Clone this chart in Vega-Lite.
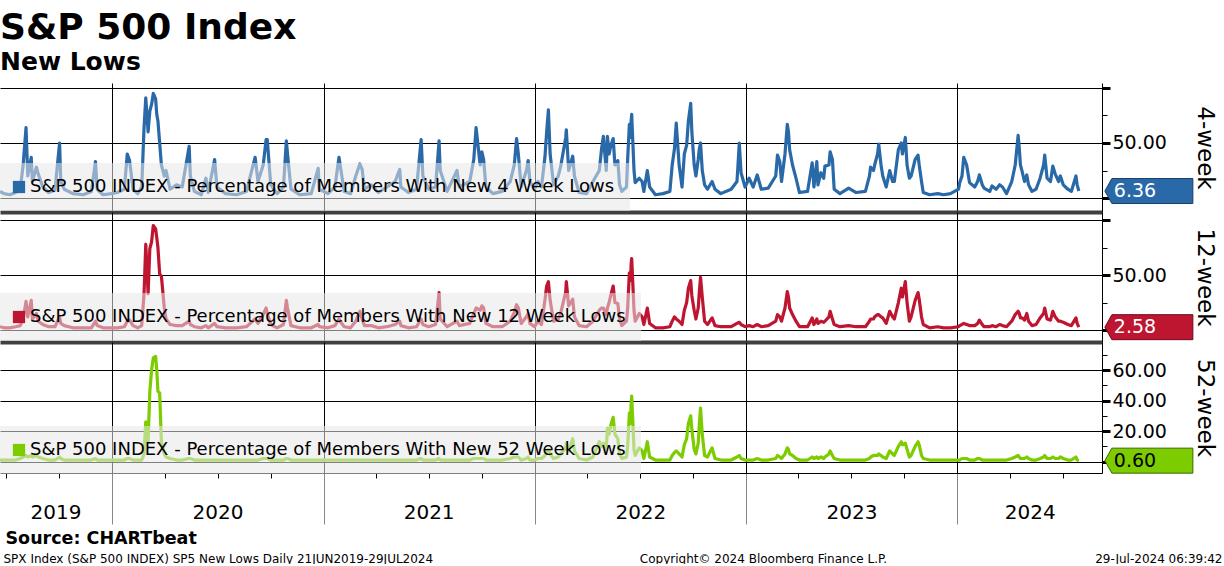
{
  "$schema": "https://vega.github.io/schema/vega-lite/v6.json",
  "padding": {"left": -2, "top": 10, "right": 0, "bottom": 0},
  "background": "white",
  "title": {"text": "S&P 500 Index", "subtitle": "New Lows", "anchor": "start", "frame": "group", "font": "DejaVu Sans", "fontSize": 36, "fontWeight": "bold", "color": "#000", "subtitleFont": "DejaVu Sans", "subtitleFontSize": 25, "subtitleFontWeight": "bold", "subtitleColor": "#000", "subtitlePadding": 3, "offset": 7},
  "datasets": {
    "main": [
      {"d":"2019-06-21","a":6,"b":3,"c":1},{"d":"2019-06-28","a":4,"b":2,"c":1},{"d":"2019-07-08","a":3,"b":2,"c":1},{"d":"2019-07-18","a":5,"b":3,"c":1},{"d":"2019-07-26","a":8,"b":4,"c":2},{"d":"2019-07-31","a":30,"b":10,"c":3},{"d":"2019-08-05","a":64,"b":26,"c":4},{"d":"2019-08-08","a":20,"b":12,"c":3},{"d":"2019-08-14","a":37,"b":27,"c":4},{"d":"2019-08-16","a":15,"b":10,"c":3},{"d":"2019-08-23","a":28,"b":15,"c":4},{"d":"2019-08-26","a":22,"b":8,"c":3},{"d":"2019-09-03","a":10,"b":5,"c":2},{"d":"2019-09-13","a":5,"b":3,"c":1},{"d":"2019-09-24","a":7,"b":3,"c":1},{"d":"2019-10-02","a":50,"b":12,"c":3},{"d":"2019-10-04","a":15,"b":6,"c":2},{"d":"2019-10-10","a":8,"b":4,"c":1},{"d":"2019-10-25","a":4,"b":2,"c":1},{"d":"2019-11-12","a":3,"b":2,"c":1},{"d":"2019-11-26","a":6,"b":2,"c":1},{"d":"2019-12-03","a":33,"b":8,"c":2},{"d":"2019-12-06","a":8,"b":4,"c":1},{"d":"2019-12-16","a":3,"b":2,"c":1},{"d":"2019-12-31","a":4,"b":2,"c":1},
      {"d":"2020-01-10","a":5,"b":2,"c":1},{"d":"2020-01-22","a":8,"b":3,"c":1},{"d":"2020-01-27","a":40,"b":8,"c":2},{"d":"2020-01-31","a":34,"b":9,"c":2},{"d":"2020-02-06","a":8,"b":4,"c":1},{"d":"2020-02-14","a":4,"b":2,"c":1},{"d":"2020-02-21","a":10,"b":4,"c":1},{"d":"2020-02-25","a":64,"b":33,"c":5},{"d":"2020-02-28","a":91,"b":78,"c":26},{"d":"2020-03-03","a":60,"b":33,"c":13},{"d":"2020-03-06","a":79,"b":74,"c":46},{"d":"2020-03-09","a":85,"b":80,"c":60},{"d":"2020-03-12","a":95,"b":95,"c":68},{"d":"2020-03-16","a":90,"b":92,"c":69},{"d":"2020-03-18","a":76,"b":84,"c":60},{"d":"2020-03-20","a":70,"b":75,"c":46},{"d":"2020-03-23","a":50,"b":51,"c":45},{"d":"2020-03-26","a":30,"b":49,"c":13},{"d":"2020-03-31","a":20,"b":20,"c":5},{"d":"2020-04-03","a":25,"b":10,"c":3},{"d":"2020-04-10","a":8,"b":5,"c":2},{"d":"2020-04-21","a":12,"b":4,"c":1},{"d":"2020-05-01","a":10,"b":4,"c":1},{"d":"2020-05-13","a":47,"b":8,"c":2},{"d":"2020-05-15","a":20,"b":5,"c":2},{"d":"2020-05-22","a":6,"b":3,"c":1},{"d":"2020-06-03","a":3,"b":2,"c":1},{"d":"2020-06-11","a":18,"b":4,"c":1},{"d":"2020-06-15","a":5,"b":2,"c":1},{"d":"2020-06-26","a":35,"b":6,"c":1},{"d":"2020-06-30","a":10,"b":3,"c":1},{"d":"2020-07-15","a":4,"b":2,"c":1},{"d":"2020-08-03","a":3,"b":2,"c":1},{"d":"2020-08-20","a":6,"b":3,"c":1},{"d":"2020-09-04","a":37,"b":10,"c":1},{"d":"2020-09-09","a":15,"b":6,"c":1},{"d":"2020-09-18","a":30,"b":14,"c":2},{"d":"2020-09-23","a":53,"b":20,"c":2},{"d":"2020-09-25","a":53,"b":15,"c":2},{"d":"2020-10-01","a":12,"b":5,"c":1},{"d":"2020-10-12","a":4,"b":2,"c":1},{"d":"2020-10-23","a":10,"b":5,"c":1},{"d":"2020-10-28","a":52,"b":27,"c":2},{"d":"2020-10-30","a":40,"b":20,"c":2},{"d":"2020-11-05","a":8,"b":4,"c":1},{"d":"2020-11-20","a":3,"b":2,"c":1},{"d":"2020-12-10","a":4,"b":2,"c":1},{"d":"2020-12-22","a":27,"b":5,"c":1},{"d":"2020-12-24","a":8,"b":3,"c":1},
      {"d":"2021-01-08","a":4,"b":2,"c":1},{"d":"2021-01-20","a":10,"b":4,"c":1},{"d":"2021-01-27","a":37,"b":10,"c":1},{"d":"2021-01-29","a":30,"b":8,"c":1},{"d":"2021-02-05","a":6,"b":3,"c":1},{"d":"2021-02-16","a":4,"b":2,"c":1},{"d":"2021-02-25","a":20,"b":8,"c":1},{"d":"2021-03-04","a":31,"b":17,"c":1},{"d":"2021-03-08","a":26,"b":10,"c":1},{"d":"2021-03-12","a":8,"b":4,"c":1},{"d":"2021-03-24","a":12,"b":4,"c":1},{"d":"2021-04-05","a":5,"b":2,"c":1},{"d":"2021-04-20","a":10,"b":3,"c":1},{"d":"2021-05-04","a":15,"b":5,"c":1},{"d":"2021-05-12","a":26,"b":8,"c":1},{"d":"2021-05-14","a":10,"b":4,"c":1},{"d":"2021-05-27","a":5,"b":2,"c":1},{"d":"2021-06-10","a":8,"b":3,"c":1},{"d":"2021-06-18","a":53,"b":10,"c":2},{"d":"2021-06-21","a":20,"b":5,"c":1},{"d":"2021-07-01","a":8,"b":3,"c":1},{"d":"2021-07-13","a":10,"b":5,"c":1},{"d":"2021-07-19","a":52,"b":34,"c":2},{"d":"2021-07-21","a":25,"b":10,"c":1},{"d":"2021-08-02","a":6,"b":3,"c":1},{"d":"2021-08-19","a":25,"b":8,"c":1},{"d":"2021-08-23","a":10,"b":4,"c":1},{"d":"2021-09-10","a":15,"b":6,"c":1},{"d":"2021-09-17","a":35,"b":15,"c":2},{"d":"2021-09-21","a":64,"b":20,"c":2},{"d":"2021-09-28","a":30,"b":18,"c":2},{"d":"2021-10-01","a":42,"b":22,"c":2},{"d":"2021-10-04","a":35,"b":20,"c":2},{"d":"2021-10-08","a":10,"b":6,"c":1},{"d":"2021-10-20","a":4,"b":3,"c":1},{"d":"2021-11-05","a":6,"b":3,"c":1},{"d":"2021-11-19","a":15,"b":8,"c":2},{"d":"2021-11-26","a":30,"b":16,"c":3},{"d":"2021-11-30","a":54,"b":23,"c":3},{"d":"2021-12-03","a":40,"b":20,"c":3},{"d":"2021-12-08","a":10,"b":6,"c":1},{"d":"2021-12-17","a":25,"b":12,"c":2},{"d":"2021-12-20","a":34,"b":15,"c":3},{"d":"2021-12-23","a":15,"b":6,"c":1},{"d":"2021-12-31","a":8,"b":3,"c":1},
      {"d":"2022-01-06","a":15,"b":8,"c":2},{"d":"2022-01-12","a":10,"b":5,"c":2},{"d":"2022-01-18","a":37,"b":27,"c":4},{"d":"2022-01-21","a":60,"b":40,"c":6},{"d":"2022-01-24","a":80,"b":44,"c":8},{"d":"2022-01-27","a":40,"b":27,"c":5},{"d":"2022-02-02","a":12,"b":8,"c":2},{"d":"2022-02-10","a":20,"b":10,"c":3},{"d":"2022-02-14","a":28,"b":15,"c":5},{"d":"2022-02-23","a":55,"b":35,"c":9},{"d":"2022-02-24","a":62,"b":44,"c":12},{"d":"2022-02-28","a":25,"b":22,"c":7},{"d":"2022-03-07","a":38,"b":28,"c":15},{"d":"2022-03-10","a":20,"b":12,"c":7},{"d":"2022-03-18","a":5,"b":4,"c":2},{"d":"2022-03-31","a":4,"b":3,"c":1},{"d":"2022-04-11","a":15,"b":8,"c":3},{"d":"2022-04-22","a":25,"b":18,"c":13},{"d":"2022-04-26","a":45,"b":20,"c":10},{"d":"2022-04-29","a":56,"b":20,"c":12},{"d":"2022-05-04","a":25,"b":14,"c":8},{"d":"2022-05-06","a":56,"b":20,"c":22},{"d":"2022-05-09","a":40,"b":25,"c":18},{"d":"2022-05-12","a":48,"b":32,"c":24},{"d":"2022-05-16","a":54,"b":40,"c":29},{"d":"2022-05-19","a":30,"b":25,"c":18},{"d":"2022-05-24","a":34,"b":24,"c":15},{"d":"2022-05-27","a":12,"b":10,"c":5},{"d":"2022-05-31","a":6,"b":4,"c":2},{"d":"2022-06-08","a":10,"b":8,"c":3},{"d":"2022-06-10","a":35,"b":20,"c":10},{"d":"2022-06-13","a":67,"b":52,"c":32},{"d":"2022-06-15","a":55,"b":45,"c":25},{"d":"2022-06-16","a":70,"b":60,"c":38},{"d":"2022-06-17","a":76,"b":65,"c":43},{"d":"2022-06-21","a":25,"b":18,"c":8},{"d":"2022-06-23","a":14,"b":8,"c":4},{"d":"2022-06-30","a":18,"b":15,"c":9},{"d":"2022-07-05","a":15,"b":12,"c":7},{"d":"2022-07-08","a":6,"b":5,"c":2},{"d":"2022-07-14","a":25,"b":20,"c":13},{"d":"2022-07-18","a":10,"b":6,"c":3},{"d":"2022-07-28","a":3,"b":2,"c":1},{"d":"2022-08-10","a":4,"b":2,"c":1},{"d":"2022-08-22","a":6,"b":3,"c":1},{"d":"2022-08-26","a":30,"b":8,"c":4},{"d":"2022-08-30","a":45,"b":12,"c":6},{"d":"2022-09-02","a":68,"b":10,"c":7},{"d":"2022-09-07","a":30,"b":8,"c":5},{"d":"2022-09-12","a":10,"b":5,"c":3},{"d":"2022-09-16","a":40,"b":18,"c":11},{"d":"2022-09-20","a":48,"b":25,"c":15},{"d":"2022-09-23","a":70,"b":38,"c":25},{"d":"2022-09-27","a":86,"b":45,"c":30},{"d":"2022-09-29","a":60,"b":31,"c":21},{"d":"2022-10-03","a":30,"b":18,"c":8},{"d":"2022-10-06","a":20,"b":10,"c":5},{"d":"2022-10-10","a":35,"b":20,"c":12},{"d":"2022-10-12","a":45,"b":35,"c":25},{"d":"2022-10-14","a":50,"b":48,"c":35},{"d":"2022-10-17","a":25,"b":30,"c":18},{"d":"2022-10-21","a":12,"b":8,"c":4},{"d":"2022-10-26","a":8,"b":5,"c":3},{"d":"2022-11-03","a":15,"b":11,"c":9},{"d":"2022-11-08","a":8,"b":4,"c":2},{"d":"2022-11-18","a":4,"b":3,"c":1},{"d":"2022-12-06","a":8,"b":3,"c":1},{"d":"2022-12-16","a":15,"b":6,"c":3},{"d":"2022-12-20","a":50,"b":7,"c":4},{"d":"2022-12-23","a":23,"b":5,"c":2},{"d":"2022-12-30","a":10,"b":3,"c":1},
      {"d":"2023-01-06","a":18,"b":4,"c":1},{"d":"2023-01-13","a":10,"b":3,"c":1},{"d":"2023-01-20","a":21,"b":5,"c":2},{"d":"2023-01-27","a":8,"b":3,"c":1},{"d":"2023-02-08","a":9,"b":4,"c":1},{"d":"2023-02-21","a":20,"b":8,"c":2},{"d":"2023-02-24","a":39,"b":14,"c":4},{"d":"2023-02-28","a":33,"b":12,"c":3},{"d":"2023-03-03","a":15,"b":8,"c":2},{"d":"2023-03-09","a":40,"b":20,"c":5},{"d":"2023-03-13","a":67,"b":35,"c":9},{"d":"2023-03-15","a":60,"b":30,"c":8},{"d":"2023-03-17","a":44,"b":20,"c":5},{"d":"2023-03-22","a":30,"b":14,"c":4},{"d":"2023-03-28","a":18,"b":8,"c":2},{"d":"2023-04-03","a":5,"b":3,"c":1},{"d":"2023-04-17","a":6,"b":3,"c":1},{"d":"2023-04-25","a":32,"b":11,"c":3},{"d":"2023-04-28","a":10,"b":5,"c":2},{"d":"2023-05-03","a":33,"b":10,"c":3},{"d":"2023-05-05","a":12,"b":6,"c":2},{"d":"2023-05-10","a":23,"b":8,"c":3},{"d":"2023-05-15","a":18,"b":7,"c":2},{"d":"2023-05-17","a":29,"b":8,"c":3},{"d":"2023-05-24","a":30,"b":12,"c":5},{"d":"2023-05-26","a":42,"b":17,"c":7},{"d":"2023-05-30","a":35,"b":10,"c":4},{"d":"2023-06-02","a":8,"b":5,"c":2},{"d":"2023-06-12","a":4,"b":3,"c":1},{"d":"2023-06-27","a":9,"b":4,"c":1},{"d":"2023-07-10","a":5,"b":3,"c":1},{"d":"2023-07-26","a":6,"b":3,"c":1},{"d":"2023-08-02","a":20,"b":8,"c":2},{"d":"2023-08-04","a":28,"b":10,"c":3},{"d":"2023-08-09","a":25,"b":10,"c":4},{"d":"2023-08-11","a":30,"b":12,"c":4},{"d":"2023-08-16","a":40,"b":14,"c":4},{"d":"2023-08-18","a":49,"b":14,"c":5},{"d":"2023-08-22","a":30,"b":12,"c":4},{"d":"2023-08-25","a":20,"b":11,"c":3},{"d":"2023-08-31","a":10,"b":6,"c":2},{"d":"2023-09-06","a":25,"b":17,"c":7},{"d":"2023-09-11","a":15,"b":12,"c":5},{"d":"2023-09-14","a":15,"b":10,"c":4},{"d":"2023-09-21","a":44,"b":25,"c":10},{"d":"2023-09-26","a":50,"b":38,"c":13},{"d":"2023-09-28","a":40,"b":30,"c":11},{"d":"2023-10-03","a":55,"b":44,"c":12},{"d":"2023-10-06","a":30,"b":25,"c":8},{"d":"2023-10-10","a":18,"b":8,"c":3},{"d":"2023-10-13","a":20,"b":12,"c":4},{"d":"2023-10-20","a":35,"b":27,"c":10},{"d":"2023-10-25","a":39,"b":34,"c":13},{"d":"2023-10-27","a":30,"b":28,"c":11},{"d":"2023-10-31","a":15,"b":12,"c":4},{"d":"2023-11-03","a":5,"b":5,"c":2},{"d":"2023-11-14","a":3,"b":2,"c":1},{"d":"2023-11-28","a":4,"b":3,"c":1},{"d":"2023-12-08","a":3,"b":2,"c":1},{"d":"2023-12-20","a":4,"b":2,"c":1},
      {"d":"2024-01-03","a":8,"b":3,"c":1},{"d":"2024-01-05","a":14,"b":4,"c":1},{"d":"2024-01-09","a":20,"b":5,"c":2},{"d":"2024-01-12","a":37,"b":6,"c":2},{"d":"2024-01-17","a":30,"b":5,"c":2},{"d":"2024-01-22","a":14,"b":4,"c":1},{"d":"2024-01-31","a":10,"b":4,"c":1},{"d":"2024-02-05","a":15,"b":6,"c":2},{"d":"2024-02-08","a":21,"b":9,"c":2},{"d":"2024-02-13","a":12,"b":5,"c":1},{"d":"2024-02-16","a":9,"b":3,"c":1},{"d":"2024-02-26","a":6,"b":3,"c":1},{"d":"2024-03-01","a":11,"b":4,"c":1},{"d":"2024-03-08","a":8,"b":3,"c":1},{"d":"2024-03-14","a":12,"b":5,"c":1},{"d":"2024-03-19","a":10,"b":4,"c":1},{"d":"2024-03-26","a":4,"b":3,"c":1},{"d":"2024-04-04","a":15,"b":8,"c":2},{"d":"2024-04-10","a":30,"b":14,"c":3},{"d":"2024-04-15","a":57,"b":17,"c":4},{"d":"2024-04-17","a":45,"b":15,"c":3},{"d":"2024-04-19","a":30,"b":11,"c":2},{"d":"2024-04-22","a":24,"b":11,"c":2},{"d":"2024-04-26","a":15,"b":9,"c":2},{"d":"2024-04-30","a":21,"b":15,"c":3},{"d":"2024-05-03","a":12,"b":8,"c":2},{"d":"2024-05-09","a":6,"b":4,"c":1},{"d":"2024-05-16","a":8,"b":5,"c":1},{"d":"2024-05-23","a":18,"b":11,"c":2},{"d":"2024-05-29","a":30,"b":15,"c":3},{"d":"2024-05-31","a":39,"b":20,"c":4},{"d":"2024-06-04","a":18,"b":10,"c":2},{"d":"2024-06-10","a":15,"b":9,"c":2},{"d":"2024-06-14","a":29,"b":17,"c":3},{"d":"2024-06-18","a":22,"b":12,"c":2},{"d":"2024-06-24","a":15,"b":8,"c":2},{"d":"2024-06-27","a":20,"b":8,"c":3},{"d":"2024-07-02","a":12,"b":7,"c":2},{"d":"2024-07-10","a":8,"b":5,"c":1},{"d":"2024-07-16","a":6,"b":4,"c":1},{"d":"2024-07-24","a":20,"b":11,"c":3},{"d":"2024-07-26","a":12,"b":6,"c":1},{"d":"2024-07-29","a":6.36,"b":2.58,"c":0.6}
    ]
  },
  "vconcat": [
    {
      "width": 1102, "height": 129,
      "resolve": {"axis": {"x": "independent", "y": "independent"}},
      "layer": [
        {
          "data": {"name": "main"},
          "mark": {"type": "line", "strokeWidth": 3.2, "strokeJoin": "round"},
          "encoding": {
            "x": {"field": "d", "type": "temporal", "scale": {"type": "utc", "domain": [{"year": 2019, "month": 6, "date": 21, "utc": true}, {"year": 2024, "month": 9, "date": 7, "utc": true}]},
                  "axis": {"orient": "bottom", "tickCount": {"interval": "year", "step": 1}, "grid": true, "gridColor": "#000", "gridWidth": 1, "ticks": false, "labels": false, "domain": true, "domainColor": "#404040", "domainWidth": 4, "title": null}},
            "y": {"field": "a", "type": "quantitative", "scale": {"domain": [-12.7, 104.5], "nice": false, "zero": false},
                  "axis": {"orient": "right", "values": [0, 25, 50, 75, 100], "grid": true, "gridColor": "#000", "gridWidth": 1,
                           "gridOpacity": {"condition": {"test": "datum.value % 50 == 0", "value": 1}, "value": 0},
                           "tickColor": "#000", "tickSize": {"condition": {"test": "datum.value % 50 == 0", "value": 8}, "value": 5},
                           "tickWidth": {"condition": {"test": "datum.value % 50 == 0", "value": 3}, "value": 1},
                           "domainColor": "#000", "labelExpr": "datum.value == 50 ? '50.00' : ''", "labelFontSize": 19, "labelColor": "#000", "labelPadding": 2,
                           "title": "4-week", "titleFontSize": 23, "titleFontWeight": "normal", "titleColor": "#000", "titleAngle": 90, "titlePadding": 26}},
            "color": {"datum": "S&P 500 INDEX - Percentage of Members With New 4 Week Lows", "scale": {"range": ["#2a69a8"]},
                      "legend": {"title": null, "orient": "none", "legendX": 0, "legendY": 80, "padding": 15, "labelOffset": 2, "symbolOffset": -5, "fillColor": "rgba(232,232,232,0.55)", "symbolType": "square", "symbolSize": 150, "symbolFillColor": "#2a69a8", "symbolStrokeWidth": 0, "symbolOpacity": 1, "labelFontSize": 18, "labelLimit": 1000, "labelColor": "#000", "zindex": 1}}
          }
        },
        {
          "mark": {"type": "rule", "strokeWidth": 4, "color": "#404040"},
          "encoding": {
            "x": {"datum": {"year": 2024, "month": 9, "date": 7, "utc": true}, "type": "temporal", "axis": null},
            "x2": {"datum": {"year": 2025, "month": 4, "date": 20, "utc": true}},
            "y": {"datum": -12.7, "type": "quantitative", "axis": null}
          }
        },
        {
          "data": {"values": [{"d": "2024-07-29", "v": 6.36}]},
          "mark": {"type": "point", "shape": "M 0.52 0 L 0.66 -0.25 L 2.28 -0.25 L 2.28 0.25 L 0.66 0.25 Z", "size": 10000, "filled": true, "fill": "#2a69a8", "stroke": "#1b3f66", "strokeWidth": 1, "opacity": 1},
          "encoding": {"x": {"field": "d", "type": "temporal", "axis": null}, "y": {"field": "v", "type": "quantitative", "axis": null}}
        },
        {
          "data": {"values": [{"d": "2024-07-29", "v": 6.36}]},
          "mark": {"type": "text", "dx": 35, "align": "left", "baseline": "middle", "fontSize": 19, "color": "#ffffff"},
          "encoding": {"x": {"field": "d", "type": "temporal", "axis": null}, "y": {"field": "v", "type": "quantitative", "axis": null}, "text": {"field": "v", "type": "quantitative", "format": ".2f"}}
        }
      ]
    },
    {
      "width": 1102, "height": 130,
      "resolve": {"axis": {"x": "independent", "y": "independent"}},
      "layer": [
        {
          "data": {"name": "main"},
          "mark": {"type": "line", "strokeWidth": 3.2, "strokeJoin": "round"},
          "encoding": {
            "x": {"field": "d", "type": "temporal", "scale": {"type": "utc", "domain": [{"year": 2019, "month": 6, "date": 21, "utc": true}, {"year": 2024, "month": 9, "date": 7, "utc": true}]},
                  "axis": {"orient": "bottom", "tickCount": {"interval": "year", "step": 1}, "grid": true, "gridColor": "#000", "gridWidth": 1, "ticks": false, "labels": false, "domain": true, "domainColor": "#404040", "domainWidth": 4, "title": null}},
            "y": {"field": "b", "type": "quantitative", "scale": {"domain": [-10.9, 107.3], "nice": false, "zero": false},
                  "axis": {"orient": "right", "values": [0, 25, 50, 75, 100], "grid": true, "gridColor": "#000", "gridWidth": 1,
                           "gridOpacity": {"condition": {"test": "datum.value % 50 == 0", "value": 1}, "value": 0},
                           "tickColor": "#000", "tickSize": {"condition": {"test": "datum.value % 50 == 0", "value": 8}, "value": 5},
                           "tickWidth": {"condition": {"test": "datum.value % 50 == 0", "value": 3}, "value": 1},
                           "domainColor": "#000", "labelExpr": "datum.value == 50 ? '50.00' : ''", "labelFontSize": 19, "labelColor": "#000", "labelPadding": 2,
                           "title": "12-week", "titleFontSize": 23, "titleFontWeight": "normal", "titleColor": "#000", "titleAngle": 90, "titlePadding": 26}},
            "color": {"datum": "S&P 500 INDEX - Percentage of Members With New 12 Week Lows", "scale": {"range": ["#be1530"]},
                      "legend": {"title": null, "orient": "none", "legendX": 0, "legendY": 81, "padding": 15, "labelOffset": 2, "symbolOffset": -5, "fillColor": "rgba(232,232,232,0.55)", "symbolType": "square", "symbolSize": 150, "symbolFillColor": "#be1530", "symbolStrokeWidth": 0, "symbolOpacity": 1, "labelFontSize": 18, "labelLimit": 1000, "labelColor": "#000", "zindex": 1}}
          }
        },
        {
          "mark": {"type": "rule", "strokeWidth": 4, "color": "#404040"},
          "encoding": {
            "x": {"datum": {"year": 2024, "month": 9, "date": 7, "utc": true}, "type": "temporal", "axis": null},
            "x2": {"datum": {"year": 2025, "month": 4, "date": 20, "utc": true}},
            "y": {"datum": -10.9, "type": "quantitative", "axis": null}
          }
        },
        {
          "data": {"values": [{"d": "2024-07-29", "v": 2.58}]},
          "mark": {"type": "point", "shape": "M 0.52 0 L 0.66 -0.25 L 2.28 -0.25 L 2.28 0.25 L 0.66 0.25 Z", "size": 10000, "filled": true, "fill": "#be1530", "stroke": "#6b0c1b", "strokeWidth": 1, "opacity": 1},
          "encoding": {"x": {"field": "d", "type": "temporal", "axis": null}, "y": {"field": "v", "type": "quantitative", "axis": null}}
        },
        {
          "data": {"values": [{"d": "2024-07-29", "v": 2.58}]},
          "mark": {"type": "text", "dx": 35, "align": "left", "baseline": "middle", "fontSize": 19, "color": "#ffffff"},
          "encoding": {"x": {"field": "d", "type": "temporal", "axis": null}, "y": {"field": "v", "type": "quantitative", "axis": null}, "text": {"field": "v", "type": "quantitative", "format": ".2f"}}
        }
      ]
    },
    {
      "width": 1102, "height": 131,
      "resolve": {"axis": {"x": "independent", "y": "independent"}},
      "layer": [
        {
          "data": {"name": "main"},
          "mark": {"type": "line", "strokeWidth": 3.2, "strokeJoin": "round"},
          "encoding": {
            "x": {"field": "d", "type": "temporal", "scale": {"type": "utc", "domain": [{"year": 2019, "month": 6, "date": 21, "utc": true}, {"year": 2024, "month": 9, "date": 7, "utc": true}]},
                  "axis": {"orient": "bottom", "tickCount": {"interval": "month", "step": 3}, "grid": true, "gridColor": "#000", "gridWidth": 1,
                           "gridOpacity": {"condition": {"test": "utcmonth(datum.value) == 0", "value": 1}, "value": 0},
                           "ticks": true, "tickColor": {"condition": {"test": "utcmonth(datum.value) == 0", "value": "#888888"}, "value": "#000000"},
                           "tickSize": {"condition": {"test": "utcmonth(datum.value) == 0", "value": 51}, "value": 5},
                           "labels": false, "domain": true, "domainColor": "#000",
                           "title": "Source: CHARTbeat", "titleX": 5, "titleY": 65, "titleAlign": "left", "titleBaseline": "middle", "titleFontSize": 17.5, "titleFontWeight": "bold", "titleColor": "#000"}},
            "y": {"field": "c", "type": "quantitative", "scale": {"domain": [-7.5, 78.4], "nice": false, "zero": false},
                  "axis": {"orient": "right", "values": [0, 10, 20, 30, 40, 50, 60, 70], "grid": true, "gridColor": "#000", "gridWidth": 1,
                           "gridOpacity": {"condition": {"test": "datum.value % 20 == 0", "value": 1}, "value": 0},
                           "tickColor": "#000", "tickSize": {"condition": {"test": "datum.value % 20 == 0", "value": 8}, "value": 5},
                           "tickWidth": {"condition": {"test": "datum.value % 20 == 0", "value": 3}, "value": 1},
                           "domainColor": "#000", "labelExpr": "datum.value > 0 && datum.value % 20 == 0 ? format(datum.value, '.2f') : ''", "labelFontSize": 19, "labelColor": "#000", "labelPadding": 2,
                           "title": "52-week", "titleFontSize": 23, "titleFontWeight": "normal", "titleColor": "#000", "titleAngle": 90, "titlePadding": 26}},
            "color": {"datum": "S&P 500 INDEX - Percentage of Members With New 52 Week Lows", "scale": {"range": ["#7dcc00"]},
                      "legend": {"title": null, "orient": "none", "legendX": 0, "legendY": 84, "padding": 15, "labelOffset": 2, "symbolOffset": -5, "fillColor": "rgba(232,232,232,0.55)", "symbolType": "square", "symbolSize": 150, "symbolFillColor": "#7dcc00", "symbolStrokeWidth": 0, "symbolOpacity": 1, "labelFontSize": 18, "labelLimit": 1000, "labelColor": "#000", "zindex": 1}}
          }
        },
        {
          "data": {"values": [{"d": "2024-07-29", "v": 0.6}]},
          "mark": {"type": "point", "shape": "M 0.52 0 L 0.66 -0.25 L 2.28 -0.25 L 2.28 0.25 L 0.66 0.25 Z", "size": 10000, "filled": true, "fill": "#7dcc00", "stroke": "#3d6600", "strokeWidth": 1, "opacity": 1},
          "encoding": {
            "x": {"field": "d", "type": "temporal",
                  "axis": {"orient": "bottom", "values": [{"year": 2019, "month": 9, "date": 25, "utc": true}, {"year": 2020, "month": 7, "date": 1, "utc": true}, {"year": 2021, "month": 7, "date": 1, "utc": true}, {"year": 2022, "month": 7, "date": 2, "utc": true}, {"year": 2023, "month": 7, "date": 2, "utc": true}, {"year": 2024, "month": 5, "date": 5, "utc": true}],
                           "format": "%Y", "ticks": false, "tickSize": 0, "domain": false, "grid": false, "labelFontSize": 20, "labelColor": "#000", "labelPadding": 29, "labelAlign": "center",
                           "title": "SPX Index (S&P 500 INDEX) SP5 New Lows  Daily 21JUN2019-29JUL2024", "titleX": 3, "titleY": 85, "titleAlign": "left", "titleBaseline": "middle", "titleFontSize": 12, "titleFontWeight": "normal", "titleColor": "#000"}},
            "y": {"field": "v", "type": "quantitative",
                  "axis": {"orient": "left", "ticks": false, "labels": false, "domain": false, "grid": false, "minExtent": 0, "maxExtent": 0,
                           "title": "Copyright\u00a9 2024 Bloomberg Finance L.P.", "titleAngle": 0, "titleX": 763, "titleY": 216, "titleAlign": "center", "titleBaseline": "middle", "titleFontSize": 12, "titleFontWeight": "normal", "titleColor": "#000"}}
          }
        },
        {
          "data": {"values": [{"d": "2024-07-29", "v": 0.6}]},
          "mark": {"type": "text", "dx": 35, "align": "left", "baseline": "middle", "fontSize": 19, "color": "#000000"},
          "encoding": {
            "x": {"field": "d", "type": "temporal", "axis": null},
            "y": {"field": "v", "type": "quantitative",
                  "axis": {"orient": "left", "ticks": false, "labels": false, "domain": false, "grid": false, "minExtent": 0, "maxExtent": 0,
                           "title": "29-Jul-2024 06:39:42", "titleAngle": 0, "titleX": 1222, "titleY": 216, "titleAlign": "right", "titleBaseline": "middle", "titleFontSize": 12, "titleFontWeight": "normal", "titleColor": "#000"}},
            "text": {"field": "v", "type": "quantitative", "format": ".2f"}
          }
        }
      ]
    }
  ],
  "spacing": 0,
  "bounds": "flush",
  "resolve": {"scale": {"x": "independent", "y": "independent", "color": "independent"}, "legend": {"color": "independent"}},
  "config": {
    "font": "DejaVu Sans",
    "view": {"stroke": null},
    "axis": {"labelFont": "DejaVu Sans", "titleFont": "DejaVu Sans"},
    "legend": {"labelFont": "DejaVu Sans"},
    "text": {"font": "DejaVu Sans"}
  }
}
